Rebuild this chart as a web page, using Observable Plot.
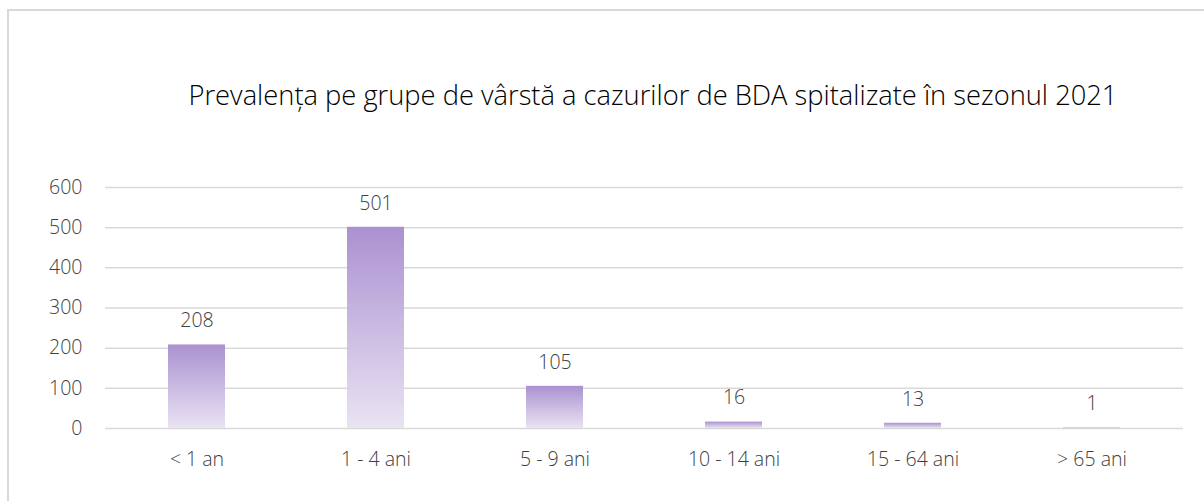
<!DOCTYPE html>
<html><head><meta charset="utf-8">
<script src="https://cdn.jsdelivr.net/npm/d3@7"></script>
<script src="https://cdn.jsdelivr.net/npm/@observablehq/plot@0.6"></script>
<style>
body{margin:0;background:#fff;font-family:"Segoe UI","Open Sans","Noto Sans",sans-serif;overflow:hidden;}
#frame{position:absolute;left:7px;top:9px;width:1300px;height:700px;border:2px solid #d9d9d9;box-sizing:border-box;}
#title{position:absolute;top:79px;left:0;width:1306px;text-align:center;font-size:27.3px;font-weight:350;line-height:32px;color:#000;white-space:nowrap;}
#chart{position:absolute;left:0;top:130px;}
#chart text{font-weight:300;}
</style></head>
<body>
<div id="frame"></div>
<div id="title">Prevalența pe grupe de vârstă a cazurilor de BDA spitalizate în sezonul 2021</div>
<div id="chart"></div>
<script>
const categories = ["< 1 an", "1 - 4 ani", "5 - 9 ani", "10 - 14 ani", "15 - 64 ani", "> 65 ani"];
const values = [208, 501, 105, 16, 13, 1];
const yTicks = [0, 100, 200, 300, 400, 500, 600];

const data = categories.map((c, i) => ({cat: c, val: values[i]}));

const defs = () => {
  const ns = "http://www.w3.org/2000/svg";
  const d = document.createElementNS(ns, "defs");
  d.innerHTML = `<linearGradient id="barGrad" x1="0" y1="0" x2="0" y2="1">
    <stop offset="0" stop-color="#ab91d0"/>
    <stop offset="1" stop-color="#e9e3f3"/>
  </linearGradient>`;
  return d;
};

const FS = 19.5;
const plot = Plot.plot({
  width: 1204,
  height: 360,
  marginTop: 57,
  marginBottom: 62,
  marginLeft: 105,
  marginRight: 21,
  style: {fontFamily: '"Segoe UI","Open Sans","Noto Sans",sans-serif', fontSize: FS + "px", color: "#595959", background: "transparent"},
  x: {domain: categories, paddingInner: 0.68, paddingOuter: 0.34, label: null, tickSize: 0, tickPadding: 25},
  y: {domain: [0, 600], ticks: yTicks, label: null, tickSize: 0, tickPadding: 23},
  marks: [
    defs,
    Plot.ruleY(yTicks, {stroke: "#d9d9d9", strokeWidth: 1.5}),
    Plot.barY(data, {x: "cat", y: "val", fill: "url(#barGrad)"}),
    Plot.text(data, {x: "cat", y: "val", text: d => String(d.val), dy: -24, fill: "#404040", fontSize: FS}),
    Plot.axisX({tickSize: 0, tickPadding: 24, fontSize: FS, fill: "#404040"}),
    Plot.axisY({ticks: yTicks, tickSize: 0, tickPadding: 23, fontSize: FS, fill: "#404040"})
  ]
});
document.getElementById("chart").appendChild(plot);
</script>
</body></html>
